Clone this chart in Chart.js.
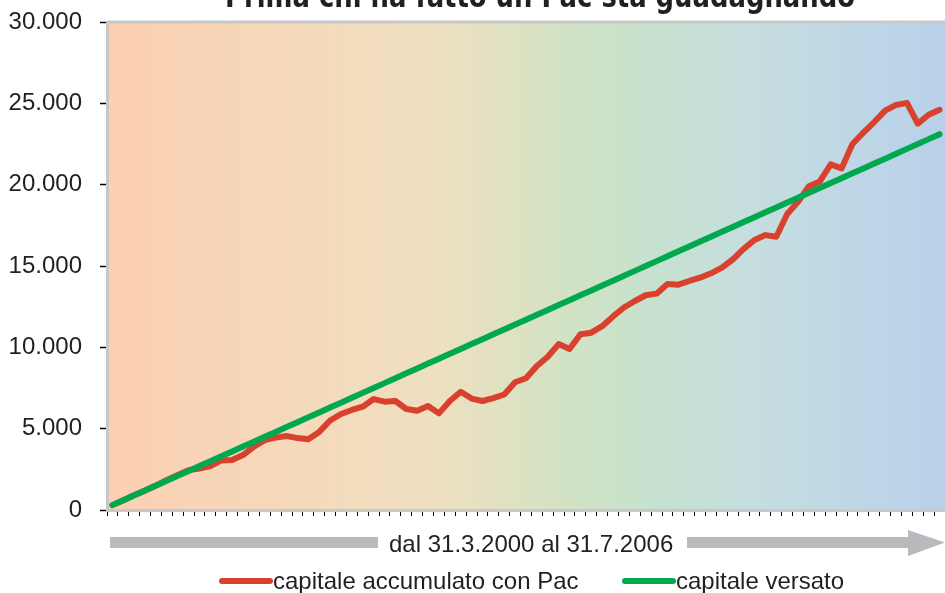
<!DOCTYPE html>
<html>
<head>
<meta charset="utf-8">
<script src="https://cdn.jsdelivr.net/npm/chart.js@4"></script>
<style>
html,body{margin:0;padding:0;background:#fff;}
#wrap{position:relative;width:945px;height:593px;}
</style>
</head>
<body>
<div id="wrap"><canvas id="c" width="945" height="593"></canvas></div>
<script>
const titleText = 'Prima chi ha fatto un Pac sta guadagnando';
const periodText = 'dal 31.3.2000 al 31.7.2006';
const seriesNames = ['capitale accumulato con Pac', 'capitale versato'];
const yTickLabels = ['0', '5.000', '10.000', '15.000', '20.000', '25.000', '30.000'];

const months = [
 '03/2000','04/2000','05/2000','06/2000','07/2000','08/2000','09/2000','10/2000','11/2000','12/2000',
 '01/2001','02/2001','03/2001','04/2001','05/2001','06/2001','07/2001','08/2001','09/2001','10/2001','11/2001','12/2001',
 '01/2002','02/2002','03/2002','04/2002','05/2002','06/2002','07/2002','08/2002','09/2002','10/2002','11/2002','12/2002',
 '01/2003','02/2003','03/2003','04/2003','05/2003','06/2003','07/2003','08/2003','09/2003','10/2003','11/2003','12/2003',
 '01/2004','02/2004','03/2004','04/2004','05/2004','06/2004','07/2004','08/2004','09/2004','10/2004','11/2004','12/2004',
 '01/2005','02/2005','03/2005','04/2005','05/2005','06/2005','07/2005','08/2005','09/2005','10/2005','11/2005','12/2005',
 '01/2006','02/2006','03/2006','04/2006','05/2006','06/2006','07/2006'
];

const capitaleAccumulato = [
 300, 600, 900, 1200, 1500, 1850, 2150, 2450, 2550, 2700,
 3050, 3080, 3380, 3900, 4300, 4450, 4550, 4420, 4350, 4800,
 5500, 5900, 6150, 6350, 6820, 6660, 6700, 6210, 6100, 6390,
 5940, 6700, 7270, 6850, 6700, 6880, 7100, 7850, 8100, 8850,
 9420, 10200, 9900, 10800, 10900, 11300, 11900, 12450, 12850, 13200,
 13300, 13900, 13850, 14080, 14280, 14550, 14900, 15400, 16050, 16600,
 16900, 16800, 18200, 18950, 19900, 20200, 21250, 21000, 22500, 23200,
 23850, 24550, 24900, 25030, 23750, 24300, 24600
];

const capitaleVersato = [
 300, 600, 900, 1200, 1500, 1800, 2100, 2400, 2700, 3000,
 3300, 3600, 3900, 4200, 4500, 4800, 5100, 5400, 5700, 6000,
 6300, 6600, 6900, 7200, 7500, 7800, 8100, 8400, 8700, 9000,
 9300, 9600, 9900, 10200, 10500, 10800, 11100, 11400, 11700, 12000,
 12300, 12600, 12900, 13200, 13500, 13800, 14100, 14400, 14700, 15000,
 15300, 15600, 15900, 16200, 16500, 16800, 17100, 17400, 17700, 18000,
 18300, 18600, 18900, 19200, 19500, 19800, 20100, 20400, 20700, 21000,
 21300, 21600, 21900, 22200, 22500, 22800, 23100
];

const RED = '#d9412f';
const GREEN = '#00a84f';
const GREY_ARROW = '#b9babd';
const TEXT = '#231f20';
const FONT = '"Liberation Sans", Arial, Helvetica, sans-serif';

const decorPlugin = {
  id: 'decor',
  beforeDraw(chart) {
    const {ctx, chartArea: a} = chart;
    ctx.save();
    const g = ctx.createLinearGradient(a.left, 0, a.right, 0);
    g.addColorStop(0.00, '#fccfb2');
    g.addColorStop(0.22, '#f5d9ba');
    g.addColorStop(0.40, '#ede0c0');
    g.addColorStop(0.55, '#d2e2c4');
    g.addColorStop(0.64, '#c7e2cd');
    g.addColorStop(0.78, '#c5dde0');
    g.addColorStop(1.00, '#b8d1ea');
    ctx.fillStyle = g;
    ctx.fillRect(a.left, a.top, a.right - a.left, a.bottom - a.top);
    ctx.strokeStyle = '#c8c8c8';
    ctx.lineWidth = 3;
    ctx.beginPath();
    ctx.moveTo(a.left, a.top);
    ctx.lineTo(a.right, a.top);
    ctx.stroke();
    ctx.restore();
  },
  afterDraw(chart) {
    const {ctx} = chart;
    ctx.save();
    ctx.font = 'bold 32px "Liberation Sans Narrow", "DejaVu Sans Condensed", "Liberation Sans", sans-serif';
    ctx.fillStyle = TEXT;
    ctx.textBaseline = 'alphabetic';
    ctx.textAlign = 'left';
    const tw = ctx.measureText(titleText).width;
    const targetW = 630;
    ctx.save();
    ctx.translate(225, 7);
    ctx.scale(targetW / tw, 1);
    ctx.fillText(titleText, 0, 0);
    ctx.restore();

    ctx.fillStyle = GREY_ARROW;
    ctx.fillRect(110, 537, 268, 11);
    ctx.fillRect(687, 537, 225, 11);
    ctx.beginPath();
    ctx.moveTo(908, 530);
    ctx.lineTo(945, 542.5);
    ctx.lineTo(908, 556);
    ctx.closePath();
    ctx.fill();
    ctx.font = '24px ' + FONT;
    ctx.fillStyle = TEXT;
    ctx.textBaseline = 'alphabetic';
    ctx.textAlign = 'left';
    ctx.fillText(periodText, 389, 552);

    const items = [
      {x: 222, color: RED, label: seriesNames[0]},
      {x: 625, color: GREEN, label: seriesNames[1]}
    ];
    items.forEach(it => {
      ctx.strokeStyle = it.color;
      ctx.lineWidth = 6;
      ctx.lineCap = 'round';
      ctx.beginPath();
      ctx.moveTo(it.x, 581);
      ctx.lineTo(it.x + 48, 581);
      ctx.stroke();
      ctx.fillStyle = TEXT;
      ctx.fillText(it.label, it.x + 51, 589);
    });
    ctx.restore();
  }
};

new Chart(document.getElementById('c'), {
  type: 'line',
  data: {
    labels: months,
    datasets: [
      {
        label: seriesNames[0],
        data: capitaleAccumulato,
        borderColor: RED,
        backgroundColor: RED,
        borderWidth: 6,
        pointRadius: 0,
        tension: 0,
        borderJoinStyle: 'round',
        borderCapStyle: 'round',
        order: 1
      },
      {
        label: seriesNames[1],
        data: capitaleVersato,
        borderColor: GREEN,
        backgroundColor: GREEN,
        borderWidth: 6,
        pointRadius: 0,
        tension: 0,
        borderJoinStyle: 'round',
        borderCapStyle: 'round',
        order: 0
      }
    ]
  },
  options: {
    responsive: false,
    animation: false,
    maintainAspectRatio: false,
    layout: {padding: {top: 22, left: 0, right: 0, bottom: 0}},
    plugins: {
      legend: {display: false},
      title: {display: false},
      tooltip: {enabled: false}
    },
    scales: {
      x: {
        type: 'category',
        offset: true,
        grid: {
          offset: true,
          drawOnChartArea: false,
          drawTicks: true,
          tickLength: 6,
          tickColor: '#000',
          tickWidth: 1
        },
        border: {display: true, color: '#c8c8c8', width: 3},
        ticks: {display: false},
        afterFit(s) { s.height = 83; s.paddingLeft = 0; s.paddingRight = 0; }
      },
      y: {
        min: 0,
        max: 30000,
        grid: {
          drawOnChartArea: false,
          drawTicks: true,
          tickLength: 7,
          tickColor: '#000',
          tickWidth: 1.5
        },
        border: {display: true, color: '#c8c8c8', width: 3},
        ticks: {
          stepSize: 5000,
          padding: 18,
          color: TEXT,
          font: {family: FONT, size: 24},
          callback: (v) => yTickLabels[Math.round(v / 5000)]
        },
        afterFit(s) { s.width = 107; s.paddingTop = 0; s.paddingBottom = 0; }
      }
    }
  },
  plugins: [decorPlugin]
});
</script>
</body>
</html>
